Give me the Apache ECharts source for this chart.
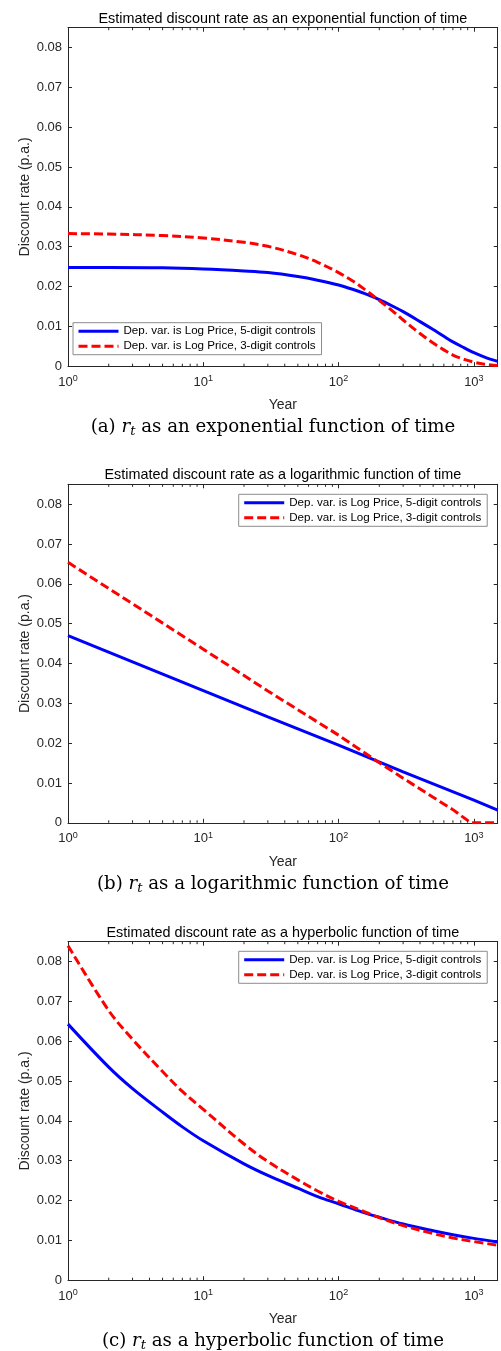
<!DOCTYPE html>
<html>
<head>
<meta charset="utf-8">
<script src="https://cdn.jsdelivr.net/npm/echarts@6/dist/echarts.min.js"></script>
<style>
html,body{margin:0;padding:0;background:#fff;}
#c{width:501px;height:1351px;}
</style>
</head>
<body>
<div id="c"></div>
<script>
// ---------- data ----------
const nameBlue = 'Dep. var. is Log Price, 5-digit controls';
const nameRed = 'Dep. var. is Log Price, 3-digit controls';

const titles = [
  'Estimated discount rate as an exponential function of time',
  'Estimated discount rate as a logarithmic function of time',
  'Estimated discount rate as a hyperbolic function of time'
];
const captionLetters = ['(a)', '(b)', '(c)'];
const captionTexts = ['as an exponential function of time', 'as a logarithmic function of time', 'as a hyperbolic function of time'];
const yTicks = [0, 0.01, 0.02, 0.03, 0.04, 0.05, 0.06, 0.07, 0.08];

// Panel (a): exponential
const yearsA = [1, 2, 5, 10, 20, 30, 50, 70, 100, 130, 160, 200, 250, 300, 400, 500, 600, 700, 850, 1000, 1200, 1500];
const blueA = [0.0248, 0.0248, 0.0247, 0.0244, 0.0239, 0.0235, 0.0225, 0.0216, 0.0204, 0.0192, 0.0181, 0.0167, 0.0151, 0.0137, 0.0112, 0.0092, 0.0075, 0.0061, 0.0046, 0.0034, 0.0023, 0.0012];
const redA  = [0.0333, 0.0332, 0.0328, 0.0322, 0.0311, 0.0301, 0.0280, 0.0261, 0.0235, 0.0212, 0.0190, 0.0165, 0.0139, 0.0116, 0.0082, 0.0058, 0.0041, 0.0028, 0.0017, 0.0010, 0.0005, 0.0002];

// Panel (b): logarithmic
const yearsB1 = [1, 3, 10, 30, 100, 300, 1000, 1500];
const blueB = [0.0470, 0.0404, 0.0332, 0.0266, 0.0195, 0.0128, 0.0057, 0.0032];
const yearsB2 = [1, 3, 10, 30, 100, 200, 300, 500, 700, 950, 1500];
const redB = [0.0654, 0.0550, 0.0436, 0.0331, 0.0220, 0.0151, 0.0112, 0.0064, 0.0033, 0.0000, 0.0000];

// Panel (c): hyperbolic
const yearsC = [1, 2, 3, 5, 7, 10, 20, 30, 50, 70, 100, 150, 200, 300, 500, 700, 1000, 1500];
const blueC = [0.0643, 0.0535, 0.0481, 0.0422, 0.0385, 0.0350, 0.0292, 0.0263, 0.0231, 0.0210, 0.0192, 0.0171, 0.0158, 0.0141, 0.0124, 0.0114, 0.0105, 0.0096];
const redC  = [0.0840, 0.0677, 0.0605, 0.0524, 0.0474, 0.0429, 0.0342, 0.0298, 0.0252, 0.0224, 0.0198, 0.0174, 0.0157, 0.0137, 0.0117, 0.0106, 0.0097, 0.0088];

// ---------- layout ----------
const X_MIN = 1, X_MAX = 1500, Y_MIN = 0, Y_MAX = 0.085;
const gridTops = [27.7, 484.3, 941.7];
const gridLeft = 68, gridRight = 3.3, gridH = 338.5;
const legendPos = [{left: 73, top: 322.7}, {left: 238.7, top: 494.3}, {left: 238.7, top: 951.3}];
const axisColor = '#262626';
const sans = 'Liberation Sans, Arial, Helvetica, sans-serif';
const serif = 'DejaVu Serif, serif';

function pairs(xs, ys) { return xs.map((x, i) => [x, ys[i]]); }
const seriesData = [
  [pairs(yearsA, blueA), pairs(yearsA, redA)],
  [pairs(yearsB1, blueB), pairs(yearsB2, redB)],
  [pairs(yearsC, blueC), pairs(yearsC, redC)]
];
const smoothBy = [0.35, false, 0.35];

const grid = [], xAxis = [], yAxis = [], series = [], title = [], legend = [];
for (let p = 0; p < 3; p++) {
  grid.push({left: gridLeft, right: gridRight, top: gridTops[p], height: gridH, containLabel: false});
  xAxis.push({
    type: 'log', logBase: 10, min: X_MIN, max: X_MAX, gridIndex: p, position: 'bottom',
    name: 'Year', nameLocation: 'middle', nameGap: 32,
    nameTextStyle: {fontFamily: sans, fontSize: 14, color: axisColor},
    axisLine: {show: true, onZero: false, lineStyle: {color: axisColor, width: 1}},
    axisTick: {show: true, inside: true, length: 4, lineStyle: {color: axisColor}},
    minorTick: {show: false},
    splitLine: {show: false},
    axisLabel: {
      show: true, margin: 8, showMaxLabel: false,
      formatter: v => '{b|10}{s|' + Math.round(Math.log10(v)) + '}',
      rich: {
        b: {fontFamily: sans, fontSize: 13, color: axisColor},
        s: {fontFamily: sans, fontSize: 9, color: axisColor, padding: [0, 0, 7, 0]}
      }
    }
  });
  xAxis.push({
    type: 'log', logBase: 10, min: X_MIN, max: X_MAX, gridIndex: p, position: 'top',
    axisLine: {show: true, onZero: false, lineStyle: {color: axisColor, width: 1}},
    axisTick: {show: true, inside: true, length: 4, lineStyle: {color: axisColor}},
    axisLabel: {show: false}, splitLine: {show: false}
  });
  yAxis.push({
    type: 'value', min: Y_MIN, max: Y_MAX, interval: 0.01, gridIndex: p, position: 'left',
    name: 'Discount rate (p.a.)', nameLocation: 'middle', nameGap: 36, nameMoveOverlap: false,
    nameTextStyle: {fontFamily: sans, fontSize: 14, color: axisColor},
    axisLine: {show: true, onZero: false, lineStyle: {color: axisColor, width: 1}},
    axisTick: {show: true, inside: true, length: 4, lineStyle: {color: axisColor}},
    splitLine: {show: false},
    axisLabel: {
      show: true, margin: 6, showMaxLabel: false,
      fontFamily: sans, fontSize: 13, color: axisColor,
      formatter: v => (yTicks.some(t => Math.abs(t - v) < 1e-9) ? String(+v.toFixed(2)) : '')
    }
  });
  yAxis.push({
    type: 'value', min: Y_MIN, max: Y_MAX, interval: 0.01, gridIndex: p, position: 'right',
    axisLine: {show: true, onZero: false, lineStyle: {color: axisColor, width: 1}},
    axisTick: {show: true, inside: true, length: 4, lineStyle: {color: axisColor}},
    axisLabel: {show: false}, splitLine: {show: false}
  });
  series.push({
    type: 'line', name: nameBlue, xAxisIndex: 2 * p, yAxisIndex: 2 * p,
    data: seriesData[p][0], symbol: 'none', smooth: smoothBy[p], clip: true,
    lineStyle: {color: '#0000ff', width: 3, type: 'solid'}, itemStyle: {color: '#0000ff'}
  });
  series.push({
    type: 'line', name: nameRed, xAxisIndex: 2 * p, yAxisIndex: 2 * p,
    data: seriesData[p][1], symbol: 'none', smooth: smoothBy[p], clip: true,
    lineStyle: {color: '#ff0000', width: 3, type: [9, 4]}, itemStyle: {color: '#ff0000'}
  });
  const cx = gridLeft + (501 - gridLeft - gridRight) / 2;
  title.push({
    text: titles[p], left: cx, textAlign: 'center', top: gridTops[p] - 16, padding: 0,
    textStyle: {fontFamily: sans, fontSize: 14.4, fontWeight: 'normal', color: '#000'}
  });
  title.push({
    text: captionLetters[p] + ' {i|r}{sub|t} ' + captionTexts[p],
    left: 273, textAlign: 'center', top: gridTops[p] + gridH + 51, padding: 0,
    textStyle: {
      fontFamily: serif, fontSize: 18.2, fontWeight: 'normal', color: '#000',
      rich: {
        i: {fontFamily: serif, fontSize: 18.2, fontStyle: 'italic', color: '#000'},
        sub: {fontFamily: serif, fontSize: 13, fontStyle: 'italic', color: '#000', padding: [8, 0, 0, 0]}
      }
    }
  });
  legend.push({
    data: [nameBlue, nameRed], orient: 'vertical',
    left: legendPos[p].left, top: legendPos[p].top,
    itemWidth: 40, itemHeight: 13, itemGap: 3,
    padding: [2.5, 6, 2.5, 4],
    backgroundColor: '#ffffff', borderColor: '#8c8c8c', borderWidth: 1, borderRadius: 0,
    selectedMode: false,
    itemStyle: {opacity: 0},
    lineStyle: {width: 3},
    textStyle: {fontFamily: sans, fontSize: 11.6, color: '#000'}
  });
}

const chart = echarts.init(document.getElementById('c'), null, {renderer: 'canvas'});
chart.setOption({animation: false, backgroundColor: '#fff', title, grid, xAxis, yAxis, series, legend});

// minor ticks at 2..9 x 10^k, placed through the library's own log scale
const minorVals = [];
for (let k = 0; k <= 3; k++) for (let m = 2; m <= 9; m++) { const v = m * Math.pow(10, k); if (v < X_MAX) minorVals.push(v); }
const graphics = [];
for (let p = 0; p < 3; p++) {
  const yb = gridTops[p] + gridH, yt = gridTops[p];
  minorVals.forEach(v => {
    const px = chart.convertToPixel({xAxisIndex: 2 * p}, v);
    graphics.push({type: 'line', shape: {x1: px, y1: yb, x2: px, y2: yb - 2.5}, style: {stroke: axisColor, lineWidth: 1}, silent: true, z: 10});
    graphics.push({type: 'line', shape: {x1: px, y1: yt, x2: px, y2: yt + 2.5}, style: {stroke: axisColor, lineWidth: 1}, silent: true, z: 10});
  });
}
chart.setOption({graphic: graphics});
</script>
</body>
</html>
